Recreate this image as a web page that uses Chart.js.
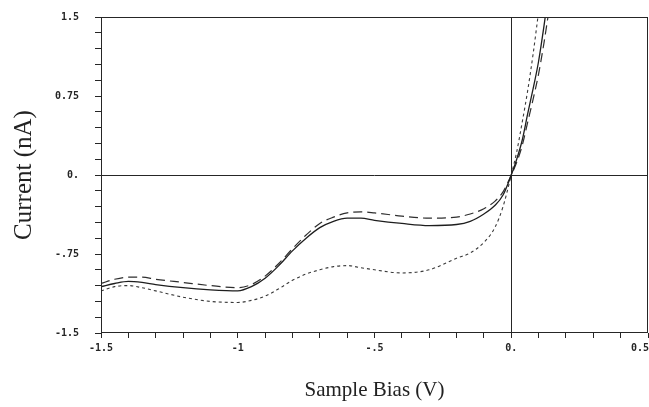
<!DOCTYPE html>
<html>
<head>
<meta charset="utf-8">
<script src="https://cdn.jsdelivr.net/npm/chart.js@4.4.1/dist/chart.umd.min.js"></script>
<style>
  html, body { margin: 0; padding: 0; background: #fff; }
</style>
</head>
<body>
<canvas id="ivChart" width="649" height="407"></canvas>
<script>
// sample bias (V) and tunnelling current (nA)
var solidBias    = [-1.5, -1.45, -1.4, -1.35, -1.3, -1.2, -1.1, -1.0, -0.95, -0.9, -0.85, -0.8, -0.75, -0.7, -0.65, -0.6, -0.55, -0.5, -0.4, -0.3, -0.2, -0.15, -0.1, -0.06, -0.03, 0, 0.02, 0.04, 0.06, 0.08, 0.1, 0.12, 0.14];
var solidCurrent = [-1.06, -1.03, -1.01, -1.02, -1.04, -1.07, -1.09, -1.10, -1.06, -0.98, -0.86, -0.72, -0.60, -0.50, -0.44, -0.41, -0.41, -0.43, -0.46, -0.48, -0.47, -0.44, -0.37, -0.29, -0.19, 0, 0.15, 0.33, 0.58, 0.82, 1.08, 1.42, 1.8];

var dashBias    = [-1.5, -1.45, -1.4, -1.35, -1.3, -1.2, -1.1, -1.0, -0.95, -0.9, -0.85, -0.8, -0.75, -0.7, -0.65, -0.6, -0.55, -0.5, -0.4, -0.3, -0.2, -0.15, -0.1, -0.06, -0.03, 0, 0.02, 0.04, 0.06, 0.08, 0.1, 0.12, 0.14, 0.16];
var dashCurrent = [-1.03, -0.99, -0.97, -0.97, -0.99, -1.02, -1.05, -1.07, -1.04, -0.96, -0.84, -0.70, -0.57, -0.46, -0.40, -0.36, -0.35, -0.36, -0.39, -0.41, -0.40, -0.37, -0.32, -0.25, -0.16, 0, 0.12, 0.28, 0.5, 0.72, 0.96, 1.26, 1.6, 1.95];

var dotBias    = [-1.5, -1.45, -1.4, -1.35, -1.3, -1.2, -1.1, -1.0, -0.95, -0.9, -0.85, -0.8, -0.75, -0.7, -0.65, -0.6, -0.55, -0.5, -0.4, -0.3, -0.2, -0.15, -0.1, -0.06, -0.03, 0, 0.02, 0.04, 0.06, 0.08, 0.1, 0.12];
var dotCurrent = [-1.10, -1.06, -1.05, -1.07, -1.10, -1.16, -1.20, -1.21, -1.19, -1.15, -1.08, -1.00, -0.94, -0.90, -0.87, -0.86, -0.88, -0.90, -0.93, -0.90, -0.79, -0.74, -0.64, -0.50, -0.30, 0, 0.22, 0.5, 0.8, 1.15, 1.55, 1.95];

var xTickValues = [-1.5, -1, -0.5, 0, 0.5];
var xTickLabels = ['-1.5', '-1', '-.5', '0.', '0.5'];
var yTickValues = [1.5, 0.75, 0, -0.75, -1.5];
var yTickLabels = ['1.5', '0.75', '0.', '-.75', '-1.5'];

function points(xs, ys) {
  return xs.map(function (x, i) { return {x: x, y: ys[i]}; });
}

function pickLabel(values, labels, v) {
  for (var i = 0; i < values.length; i++) {
    if (Math.abs(values[i] - v) < 1e-6) return labels[i];
  }
  return '';
}

var ink = '#262626';

// box round the plot area
var frame = {
  id: 'frame',
  afterDatasetsDraw: function (chart) {
    var a = chart.chartArea, c = chart.ctx;
    c.save();
    c.strokeStyle = ink;
    c.lineWidth = 1;
    c.strokeRect(a.left + 0.5, a.top + 0.5, a.right - a.left - 1, a.bottom - a.top - 1);
    c.restore();
  }
};

// the last x label sits at the canvas edge, so right-align it
var edgeLabel = {
  id: 'edgeLabel',
  beforeDraw: function (chart) {
    var items = chart.scales.x.getLabelItems();
    var last = items[items.length - 1];
    if (last && last.label) {
      last.options.textAlign = 'right';
      last.options.translation[0] += 1;
    }
  }
};

var tickFont = {family: 'DejaVu Sans Mono', size: 10, weight: 'bold'};
var titleFont = {family: 'Liberation Serif', weight: 'normal'};

var ctx = document.getElementById('ivChart').getContext('2d');
var ivChart = new Chart(ctx, {
  type: 'scatter',
  data: {
    datasets: [{
        data: points(solidBias, solidCurrent),
        borderColor: '#1e1e1e',
        borderWidth: 1.3
      }, {
        data: points(dashBias, dashCurrent),
        borderColor: '#2e2e2e',
        borderWidth: 1.2,
        borderDash: [9, 5]
      }, {
        data: points(dotBias, dotCurrent),
        borderColor: '#3a3a3a',
        borderWidth: 1.1,
        borderDash: [3, 3]
      }
    ]
  },
  options: {
    responsive: false,
    animation: false,
    layout: {padding: {left: 0, right: 1, top: 17, bottom: 0}},
    elements: {
      point: {radius: 0, hoverRadius: 0},
      line: {cubicInterpolationMode: 'monotone', fill: false}
    },
    datasets: {scatter: {showLine: true}},
    scales: {
      x: {
        type: 'linear',
        min: -1.5,
        max: 0.5,
        border: {display: false},
        grid: {
          color: function (c) { return c.tick && Math.abs(c.tick.value) < 1e-6 ? ink : 'rgba(0,0,0,0)'; },
          tickColor: ink,
          tickLength: 5,
          lineWidth: 1
        },
        ticks: {
          stepSize: 0.1,
          autoSkip: false,
          maxRotation: 0,
          padding: 4,
          color: ink,
          font: tickFont,
          callback: function (v) { return pickLabel(xTickValues, xTickLabels, v); }
        },
        title: {
          display: true,
          text: 'Sample Bias (V)',
          color: '#222',
          font: Object.assign({size: 21}, titleFont),
          padding: {top: 0, bottom: 4}
        },
        afterFit: function (scale) {
          scale.height = 74;
          scale.paddingLeft = 0;
          scale.paddingRight = 0;
        }
      },
      y: {
        min: -1.5,
        max: 1.5,
        border: {display: false},
        grid: {
          color: function (c) { return c.tick && Math.abs(c.tick.value) < 1e-6 ? ink : 'rgba(0,0,0,0)'; },
          tickColor: ink,
          tickLength: 6,
          lineWidth: 1
        },
        ticks: {
          stepSize: 0.15,
          autoSkip: false,
          padding: 16,
          color: ink,
          font: tickFont,
          callback: function (v) { return pickLabel(yTickValues, yTickLabels, v); }
        },
        title: {
          display: true,
          text: 'Current (nA)',
          color: '#222',
          font: Object.assign({size: 25}, titleFont),
          padding: {top: 9, bottom: 0}
        },
        afterFit: function (scale) {
          scale.width = 101;
          scale.paddingTop = 0;
          scale.paddingBottom = 0;
        }
      }
    },
    plugins: {
      legend: {display: false},
      tooltip: {enabled: false}
    }
  },
  plugins: [frame, edgeLabel]
});
</script>
</body>
</html>
